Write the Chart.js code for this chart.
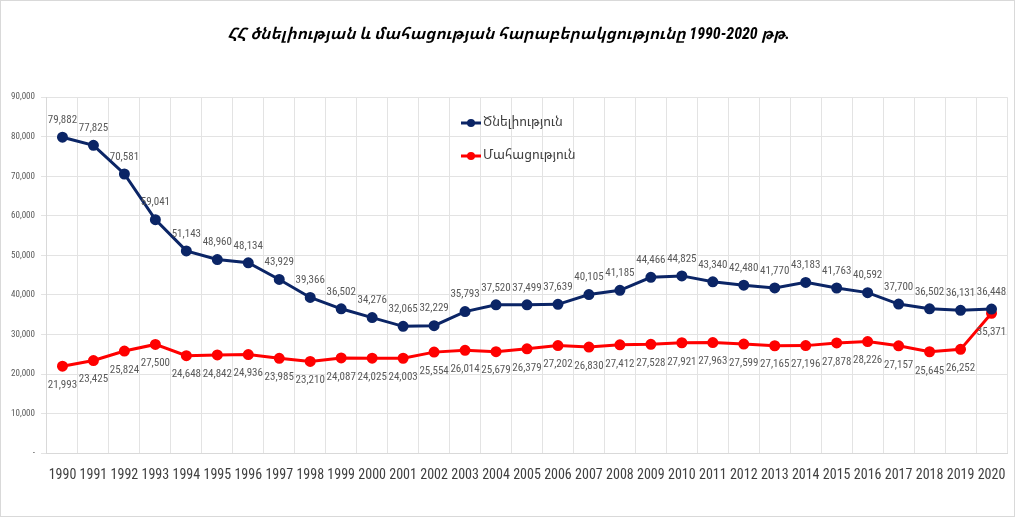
<!DOCTYPE html>
<html>
<head>
<meta charset="utf-8">
<script src="https://cdn.jsdelivr.net/npm/chart.js@4"></script>
<style>
  html, body { margin: 0; padding: 0; background: #fff; }
  #wrap { width: 1015px; height: 517px; position: relative; box-sizing: border-box; border: 1px solid #d9d9d9; }
</style>
</head>
<body>
<div id="wrap"><canvas id="canvas"></canvas></div>
<script>
// տարիներ
var years = ['1990','1991','1992','1993','1994','1995','1996','1997','1998','1999','2000',
  '2001','2002','2003','2004','2005','2006','2007','2008','2009','2010',
  '2011','2012','2013','2014','2015','2016','2017','2018','2019','2020'];

// ծնելիություն
var births = [79882, 77825, 70581, 59041, 51143, 48960, 48134, 43929, 39366, 36502, 34276,
  32065, 32229, 35793, 37520, 37499, 37639, 40105, 41185, 44466, 44825,
  43340, 42480, 41770, 43183, 41763, 40592, 37700, 36502, 36131, 36448];

// մահացություն
var deaths = [21993, 23425, 25824, 27500, 24648, 24842, 24936, 23985, 23210, 24087, 24025,
  24003, 25554, 26014, 25679, 26379, 27202, 26830, 27412, 27528, 27921,
  27963, 27599, 27165, 27196, 27878, 28226, 27157, 25645, 26252, 35371];

var titleText = 'ՀՀ ծնելիության և մահացության հարաբերակցությունը 1990-2020 թթ.';
var blue = '#0b2566';
var red = '#ff0000';
var narrow = '"Roboto Condensed", "Noto Sans Armenian", sans-serif';

function fmt(v) {
  return v === 0 ? '-' : v.toLocaleString('en-US');
}

// թվերը կետերի վրա
var valueLabels = {
  id: 'valueLabels',
  afterDatasetsDraw: function(chart) {
    var ctx = chart.ctx;
    ctx.save();
    ctx.font = '11px ' + narrow;
    ctx.fillStyle = '#595959';
    ctx.textAlign = 'center';
    ctx.textBaseline = 'middle';
    chart.data.datasets.forEach(function(ds, i) {
      var meta = chart.getDatasetMeta(i);
      meta.data.forEach(function(pt, j) {
        var dy = i === 0 ? -17 : 19;
        ctx.fillText(fmt(ds.data[j]), pt.x, pt.y + dy);
      });
    });
    ctx.restore();
  }
};

// լեգենդը գծի ներսում
var innerLegend = {
  id: 'innerLegend',
  afterDraw: function(chart) {
    var ctx = chart.ctx;
    ctx.save();
    var x = 460, ys = [122, 155];
    chart.data.datasets.forEach(function(ds, i) {
      var y = ys[i];
      ctx.strokeStyle = ds.borderColor;
      ctx.lineWidth = 3;
      ctx.beginPath();
      ctx.moveTo(x, y);
      ctx.lineTo(x + 20, y);
      ctx.stroke();
      ctx.fillStyle = ds.borderColor;
      ctx.beginPath();
      ctx.arc(x + 10, y, 4, 0, Math.PI * 2);
      ctx.fill();
      ctx.fillStyle = '#404040';
      ctx.font = '13px ' + narrow;
      ctx.textAlign = 'left';
      ctx.textBaseline = 'middle';
      ctx.fillText(ds.label, x + 22, y);
    });
    ctx.restore();
  }
};

var ctx = document.getElementById('canvas').getContext('2d');
window.myChart = new Chart(ctx, {
  type: 'line',
  data: {
    labels: years,
    datasets: [
      {
        label: 'Ծնելիություն',
        data: births,
        borderColor: blue,
        backgroundColor: blue,
        pointBackgroundColor: blue,
        borderWidth: 3,
        pointRadius: 4,
        tension: 0,
        fill: false
      },
      {
        label: 'Մահացություն',
        data: deaths,
        borderColor: red,
        backgroundColor: red,
        pointBackgroundColor: red,
        borderWidth: 3,
        pointRadius: 4,
        tension: 0,
        fill: false
      }
    ]
  },
  options: {
    responsive: true,
    maintainAspectRatio: false,
    animation: false,
    layout: { padding: { left: 4, right: 2, top: 0, bottom: 18 } },
    plugins: {
      legend: { display: false },
      tooltip: { enabled: false },
      title: {
        display: true,
        text: titleText,
        color: '#000',
        font: { family: narrow, size: 16, weight: 'bold', style: 'italic' },
        padding: { top: 24, bottom: 53 }
      }
    },
    scales: {
      x: {
        offset: true,
        afterFit: function(scale) {
          scale.paddingRight = 0;
        },
        grid: { color: '#e3e3e3', offset: true, drawTicks: false },
        border: { color: '#d9d9d9' },
        ticks: {
          color: '#404040',
          padding: 14,
          maxRotation: 0,
          autoSkip: false,
          font: { family: narrow, size: 14 }
        }
      },
      y: {
        min: 0,
        max: 90000,
        ticks: {
          stepSize: 10000,
          color: '#595959',
          padding: 6,
          font: { family: narrow, size: 9 },
          callback: function(v) { return fmt(v); }
        },
        grid: { color: '#e3e3e3', tickLength: 6 },
        border: { color: '#d9d9d9' }
      }
    }
  },
  plugins: [valueLabels, innerLegend]
});
</script>
</body>
</html>
